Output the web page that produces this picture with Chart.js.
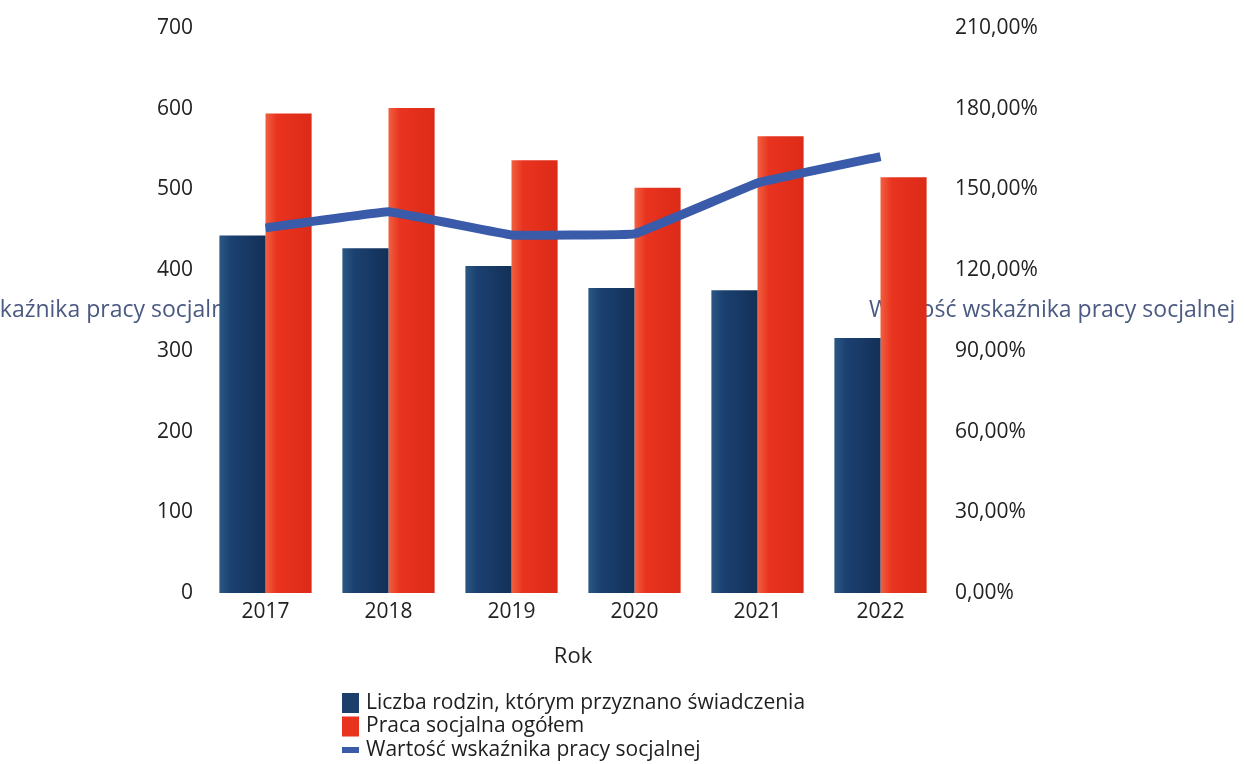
<!DOCTYPE html>
<html>
<head>
<meta charset="utf-8">
<script src="https://cdn.jsdelivr.net/npm/chart.js@4/dist/chart.umd.min.js"></script>
<style>
    html, body { margin: 0; padding: 0; background: #ffffff; }
    #wrap { width: 1244px; height: 764px; position: relative; }
</style>
</head>
<body>
<div id="wrap"><canvas id="wykres"></canvas></div>
<script>
const lata = ["2017", "2018", "2019", "2020", "2021", "2022"];
const rodziny = [443, 427, 405, 378, 375, 316];
const pracaSocjalna = [594, 601, 536, 502, 566, 515];
const wskaznik = [135.7, 141.7, 133.1, 133.5, 152.4, 162.2];

const nazwaRodziny = "Liczba rodzin, którym przyznano świadczenia";
const nazwaPraca = "Praca socjalna ogółem";
const nazwaWskaznik = "Wartość wskaźnika pracy socjalnej";
const tytulX = "Rok";

const FONT = "'Open Sans', 'DejaVu Sans', sans-serif";

// gradient dla slupka, liczony z osi X
function gradient(context, strona, kolory) {
    const chart = context.chart;
    const x = chart.scales.x;
    if (!x || !chart.chartArea || context.dataIndex === undefined) return kolory[1];
    const srodek = x.getPixelForValue(context.dataIndex);
    const szer = x.width / lata.length * 0.75 / 2;
    const lewy = strona < 0 ? srodek - szer : srodek;
    const g = chart.ctx.createLinearGradient(lewy, 0, lewy + szer, 0);
    g.addColorStop(0, kolory[0]);
    g.addColorStop(0.25, kolory[1]);
    g.addColorStop(1, kolory[2]);
    return g;
}

// tytuly osi Y rysowane pod slupkami
const tytulyOsi = {
    id: "tytulyOsi",
    beforeDatasetsDraw(chart) {
        const ctx = chart.ctx;
        ctx.save();
        ctx.font = "23px " + FONT;
        ctx.fillStyle = "#4b5a82";
        ctx.textBaseline = "middle";
        ctx.textAlign = "right";
        ctx.fillText(nazwaWskaznik, 244, 310);
        ctx.textAlign = "left";
        ctx.fillText(nazwaWskaznik, 869, 310);
        ctx.restore();
    }
};

// legenda w trzech wierszach
const legenda = {
    id: "legenda",
    afterDraw(chart) {
        const ctx = chart.ctx;
        const pozycje = [
            { tekst: nazwaRodziny, kolor: "#1b3f6a", typ: "box" },
            { tekst: nazwaPraca, kolor: "#e8331f", typ: "box" },
            { tekst: nazwaWskaznik, kolor: "#3a5ba9", typ: "line" }
        ];
        ctx.save();
        ctx.font = "21px " + FONT;
        ctx.textBaseline = "middle";
        ctx.textAlign = "left";
        pozycje.forEach((p, i) => {
            const y = 703 + i * 23.5;
            ctx.fillStyle = p.kolor;
            if (p.typ === "box") {
                ctx.fillRect(342, y - 10, 17, 20);
            } else {
                ctx.fillRect(342, y - 3, 17, 6);
            }
            ctx.fillStyle = "#1e1e1e";
            ctx.fillText(p.tekst, 366, y);
        });
        ctx.restore();
    }
};

const ctx = document.getElementById("wykres");

new Chart(ctx, {
    data: {
        labels: lata,
        datasets: [
            {
                type: "line",
                label: nazwaWskaznik,
                data: wskaznik,
                yAxisID: "y1",
                borderColor: "#3a5ba9",
                borderWidth: 9,
                pointRadius: 0,
                tension: 0.05,
                borderCapStyle: "butt",
                order: 0
            },
            {
                type: "bar",
                label: nazwaRodziny,
                data: rodziny,
                yAxisID: "y",
                backgroundColor: c => gradient(c, -1, ["#2b5884", "#1b4171", "#133057"]),
                categoryPercentage: 0.75,
                barPercentage: 1.0,
                order: 1
            },
            {
                type: "bar",
                label: nazwaPraca,
                data: pracaSocjalna,
                yAxisID: "y",
                backgroundColor: c => gradient(c, 1, ["#f0603f", "#e8331f", "#dc2b18"]),
                categoryPercentage: 0.75,
                barPercentage: 1.0,
                order: 1
            }
        ]
    },
    plugins: [tytulyOsi, legenda],
    options: {
        responsive: true,
        maintainAspectRatio: false,
        animation: false,
        layout: {
            padding: { top: 28, bottom: 86, left: 0, right: 0 }
        },
        plugins: {
            legend: { display: false },
            tooltip: { enabled: false }
        },
        scales: {
            x: {
                grid: { display: false, drawTicks: false },
                border: { display: false },
                ticks: {
                    color: "#222222",
                    padding: 6,
                    font: { family: FONT, size: 21 }
                },
                title: {
                    display: true,
                    text: tytulX,
                    color: "#222222",
                    font: { family: FONT, size: 22 },
                    padding: { top: 0, bottom: 8 }
                },
                afterFit: scale => { scale.height = 85; }
            },
            y: {
                position: "left",
                min: 0,
                max: 700,
                grid: { display: false, drawTicks: false },
                border: { display: false },
                ticks: {
                    stepSize: 100,
                    color: "#222222",
                    padding: 11,
                    font: { family: FONT, size: 21 }
                },
                afterFit: scale => { scale.width = 204; }
            },
            y1: {
                position: "right",
                min: 0,
                max: 210,
                grid: { display: false, drawTicks: false },
                border: { display: false },
                ticks: {
                    stepSize: 30,
                    color: "#222222",
                    padding: 13,
                    font: { family: FONT, size: 21 },
                    callback: v => v.toFixed(2).replace(".", ",") + "%"
                },
                afterFit: scale => { scale.width = 302; }
            }
        }
    }
});
</script>
</body>
</html>
